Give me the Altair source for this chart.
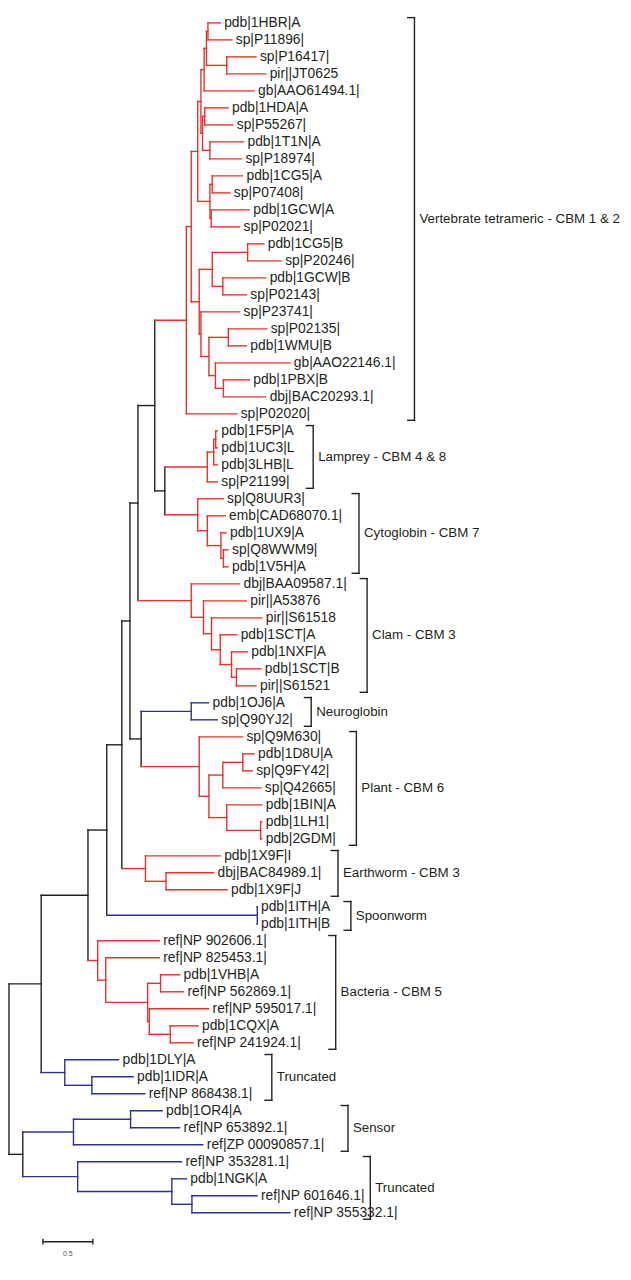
import altair as alt
import pandas as pd

# ---------------- data ----------------
LEAF_NAMES = [
    "pdb|1HBR|A", "sp|P11896|", "sp|P16417|", "pir||JT0625", "gb|AAO61494.1|",
    "pdb|1HDA|A", "sp|P55267|", "pdb|1T1N|A", "sp|P18974|", "pdb|1CG5|A",
    "sp|P07408|", "pdb|1GCW|A", "sp|P02021|", "pdb|1CG5|B", "sp|P20246|",
    "pdb|1GCW|B", "sp|P02143|", "sp|P23741|", "sp|P02135|", "pdb|1WMU|B",
    "gb|AAO22146.1|", "pdb|1PBX|B", "dbj|BAC20293.1|", "sp|P02020|",
    "pdb|1F5P|A", "pdb|1UC3|L", "pdb|3LHB|L", "sp|P21199|",
    "sp|Q8UUR3|", "emb|CAD68070.1|", "pdb|1UX9|A", "sp|Q8WWM9|", "pdb|1V5H|A",
    "dbj|BAA09587.1|", "pir||A53876", "pir||S61518", "pdb|1SCT|A", "pdb|1NXF|A",
    "pdb|1SCT|B", "pir||S61521",
    "pdb|1OJ6|A", "sp|Q90YJ2|",
    "sp|Q9M630|", "pdb|1D8U|A", "sp|Q9FY42|", "sp|Q42665|", "pdb|1BIN|A",
    "pdb|1LH1|", "pdb|2GDM|",
    "pdb|1X9F|I", "dbj|BAC84989.1|", "pdb|1X9F|J",
    "pdb|1ITH|A", "pdb|1ITH|B",
    "ref|NP 902606.1|", "ref|NP 825453.1|", "pdb|1VHB|A", "ref|NP 562869.1|",
    "ref|NP 595017.1|", "pdb|1CQX|A", "ref|NP 241924.1|",
    "pdb|1DLY|A", "pdb|1IDR|A", "ref|NP 868438.1|",
    "pdb|1OR4|A", "ref|NP 653892.1|", "ref|ZP 00090857.1|",
    "ref|NP 353281.1|", "pdb|1NGK|A", "ref|NP 601646.1|", "ref|NP 355332.1|",
]
LEAF_DEPTH = [
    2.113, 2.229, 2.471, 2.568, 2.452,
    2.191, 2.239, 2.346, 2.326, 2.336,
    2.210, 2.404, 2.307, 2.549, 2.723,
    2.568, 2.375, 2.307, 2.578, 2.375,
    2.810, 2.404, 2.568, 2.278,
    2.084, 2.084, 2.084, 2.084,
    2.142, 2.162, 2.171, 2.191, 2.191,
    2.307, 2.375, 2.529, 2.278, 2.384,
    2.520, 2.471,
    1.997, 2.084,
    2.336, 2.452, 2.433, 2.520, 2.529,
    2.529, 2.529,
    2.113, 2.046, 2.181,
    2.481, 2.481,
    1.503, 1.503, 1.707, 1.745,
    1.997, 1.891, 1.842,
    1.097, 1.242, 1.358,
    1.532, 1.707, 1.939,
    1.726, 1.774, 2.481, 2.810,
]
LEAF_CLADE = (["red"] * 40 + ["blue"] * 2 + ["red"] * 10 + ["blue"] * 2
              + ["red"] * 7 + ["blue"] * 10)

NODE_ID = ["A", "B", "C", "D", "E", "G", "H", "I", "J", "K", "L", "M",
           "N", "O", "P", "T1", "T2", "T3", "T", "S", "Q", "R", "VERT",
           "LA1", "LA2", "LAM", "CY1", "CY2", "CY3", "CYT", "LC", "V",
           "CL1", "CL2", "CL3", "CL4", "CL5", "CLAM", "W",
           "NEU", "PL1", "PL2", "PL3", "PL4", "PL5", "PLANT", "NP", "X",
           "EW1", "EW", "Y", "SPW", "Z",
           "BA1", "BA2", "BA3", "BA4", "BA5", "BACT", "AA",
           "TR1", "TRA", "BB", "SE1", "SEN", "TB1", "TB2", "TRB", "CC", "ROOT"]
NODE_LEFT = ["pdb|1HBR|A", "sp|P16417|", "A", "C", "pdb|1HDA|A", "pdb|1T1N|A", "E", "D",
             "pdb|1CG5|A", "pdb|1GCW|A", "J", "I",
             "pdb|1CG5|B", "pdb|1GCW|B", "N", "sp|P02135|", "pdb|1PBX|B", "gb|AAO22146.1|",
             "T1", "sp|P23741|", "P", "M", "R",
             "pdb|1F5P|A", "LA1", "LA2", "sp|Q8WWM9|", "pdb|1UX9|A", "emb|CAD68070.1|",
             "sp|Q8UUR3|", "LAM", "VERT",
             "pdb|1SCT|B", "pdb|1NXF|A", "pdb|1SCT|A", "pir||S61518", "pir||A53876",
             "dbj|BAA09587.1|", "V",
             "pdb|1OJ6|A", "pdb|1D8U|A", "PL1", "pdb|1LH1|", "pdb|1BIN|A", "PL2",
             "sp|Q9M630|", "NEU", "W",
             "dbj|BAC84989.1|", "pdb|1X9F|I", "X", "pdb|1ITH|A", "Y",
             "pdb|1VHB|A", "pdb|1CQX|A", "ref|NP 595017.1|", "BA1", "ref|NP 825453.1|",
             "ref|NP 902606.1|", "Z",
             "pdb|1IDR|A", "pdb|1DLY|A", "AA", "pdb|1OR4|A", "SE1", "ref|NP 601646.1|",
             "pdb|1NGK|A", "ref|NP 353281.1|", "SEN", "BB"]
NODE_RIGHT = ["sp|P11896|", "pir||JT0625", "B", "gb|AAO61494.1|", "sp|P55267|", "sp|P18974|",
              "G", "H", "sp|P07408|", "sp|P02021|", "K", "L",
              "sp|P20246|", "sp|P02143|", "O", "pdb|1WMU|B", "dbj|BAC20293.1|", "T2",
              "T3", "T", "S", "Q", "sp|P02020|",
              "pdb|1UC3|L", "pdb|3LHB|L", "sp|P21199|", "pdb|1V5H|A", "CY1", "CY2",
              "CY3", "CYT", "LC",
              "pir||S61521", "CL1", "CL2", "CL3", "CL4", "CL5", "CLAM",
              "sp|Q90YJ2|", "sp|Q9FY42|", "sp|Q42665|", "pdb|2GDM|", "PL3", "PL4",
              "PL5", "PLANT", "NP",
              "pdb|1X9F|J", "EW1", "EW", "pdb|1ITH|B", "SPW",
              "ref|NP 562869.1|", "ref|NP 241924.1|", "BA2", "BA3", "BA4", "BA5", "BACT",
              "ref|NP 868438.1|", "TR1", "TRA", "ref|NP 653892.1|", "ref|ZP 00090857.1|",
              "ref|NP 355332.1|", "TB1", "TB2", "TRB", "CC"]
NODE_DEPTH = [1.990, 2.178, 1.975, 1.952, 1.958, 2.010, 1.936, 1.920, 2.033, 2.023, 2.010, 1.888,
              2.387, 2.139, 2.033, 2.194, 2.145, 2.065, 2.000, 1.920, 1.903, 1.823, 1.774,
              2.068, 2.048, 1.984, 2.145, 2.120, 1.984, 1.888, 1.559, 1.458,
              2.275, 2.226, 2.113, 2.026, 1.946, 1.823, 1.290,
              1.823, 2.339, 2.139, 2.517, 2.178, 2.000, 1.903, 1.322, 1.210,
              1.571, 1.365, 1.129, 2.484, 0.978,
              1.516, 1.613, 1.404, 1.387, 0.968, 0.887, 0.790,
              0.829, 0.558, 0.322, 1.216, 0.645, 1.830, 1.629, 0.687, 0.138, 0.000]
NODE_CLADE = (["red"] * 30 + ["black"] * 2 + ["red"] * 6 + ["black"]
              + ["blue"] + ["red"] * 6 + ["black"] * 2
              + ["red"] * 2 + ["black"] + ["blue"] + ["black"]
              + ["red"] * 6 + ["black"]
              + ["blue"] * 2 + ["black"] + ["blue"] * 5 + ["black"] * 2)

GROUP_NAMES = ["Vertebrate tetrameric - CBM 1 & 2", "Lamprey - CBM 4 & 8", "Cytoglobin - CBM 7",
               "Clam - CBM 3", "Neuroglobin", "Plant - CBM 6", "Earthworm - CBM 3",
               "Spoonworm", "Bacteria - CBM 5", "Truncated", "Sensor", "Truncated"]
GROUP_FIRST = [0, 24, 28, 33, 40, 42, 49, 52, 54, 61, 64, 67]
GROUP_LAST = [23, 27, 32, 39, 41, 48, 51, 53, 60, 63, 66, 70]
GROUP_X = [4.056, 3.043, 3.501, 3.582, 3.023, 3.475, 3.291, 3.420, 3.268, 2.629, 3.391, 3.614]

SCALE_BAR = 0.5
SCALE_LABEL = "0.5"

# ---------------- build tables ----------------
COLORS = {"red": "#E8312A", "blue": "#2E3192", "black": "#231F20"}
ypos = {n: i for i, n in enumerate(LEAF_NAMES)}
depth = dict(zip(LEAF_NAMES, LEAF_DEPTH))
clade = dict(zip(LEAF_NAMES, LEAF_CLADE))
for nid, a, b, d, c in zip(NODE_ID, NODE_LEFT, NODE_RIGHT, NODE_DEPTH, NODE_CLADE):
    ypos[nid] = (ypos[a] + ypos[b]) / 2.0
    depth[nid] = d
    clade[nid] = c

segs = []
for nid, a, b in zip(NODE_ID, NODE_LEFT, NODE_RIGHT):
    segs.append(dict(x=depth[nid], x2=depth[nid], y=ypos[a], y2=ypos[b], c=clade[nid]))
    for ch in (a, b):
        segs.append(dict(x=depth[nid], x2=depth[ch], y=ypos[ch], y2=ypos[ch], c=clade[ch]))
seg_df = pd.DataFrame(segs)

leaf_df = pd.DataFrame({"x": LEAF_DEPTH, "y": list(range(len(LEAF_NAMES))), "name": LEAF_NAMES})

TOP_OFF, BOT_OFF, TICK = 0.31, 0.38, 0.068
br = []
glab = []
for name, f, l, gx in zip(GROUP_NAMES, GROUP_FIRST, GROUP_LAST, GROUP_X):
    y0, y1 = f - TOP_OFF, l + BOT_OFF
    br.append(dict(x=gx, x2=gx, y=y0, y2=y1))
    br.append(dict(x=gx - TICK, x2=gx, y=y0, y2=y0))
    br.append(dict(x=gx - TICK, x2=gx, y=y1, y2=y1))
    glab.append(dict(x=gx, y=(y0 + y1) / 2.0, name=name))
br_df = pd.DataFrame(br)
glab_df = pd.DataFrame(glab)

n = len(LEAF_NAMES)
sb_x0 = 0.339
sb_y = n - 1 + 1.7
sb = pd.DataFrame([
    dict(x=sb_x0, x2=sb_x0 + SCALE_BAR, y=sb_y, y2=sb_y),
    dict(x=sb_x0, x2=sb_x0, y=sb_y - 0.17, y2=sb_y + 0.17),
    dict(x=sb_x0 + SCALE_BAR, x2=sb_x0 + SCALE_BAR, y=sb_y - 0.17, y2=sb_y + 0.17),
])
sb_lab = pd.DataFrame([dict(x=sb_x0 + SCALE_BAR / 2, y=n - 1 + 2.45, t=SCALE_LABEL)])

# ---------------- chart ----------------
W, H = 623, 1258
XS = alt.Scale(domain=[-0.0099, 6.142], nice=False, zero=False)
YS = alt.Scale(domain=[-0.4, 72.655], nice=False, zero=False, reverse=True)
CS = alt.Scale(domain=list(COLORS.keys()), range=list(COLORS.values()))
FONT = "Liberation Sans"

tree = alt.Chart(seg_df).mark_rule(strokeWidth=1.4, strokeCap="square").encode(
    x=alt.X("x:Q", scale=XS, axis=None), x2="x2:Q",
    y=alt.Y("y:Q", scale=YS, axis=None), y2="y2:Q",
    color=alt.Color("c:N", scale=CS, legend=None),
)
leaves = alt.Chart(leaf_df).mark_text(align="left", baseline="middle", dx=4, fontSize=14,
                                      font=FONT, color="#231F20").encode(
    x=alt.X("x:Q", scale=XS, axis=None), y=alt.Y("y:Q", scale=YS, axis=None), text="name:N")
brackets = alt.Chart(br_df).mark_rule(strokeWidth=1.4, strokeCap="square", color="#231F20").encode(
    x=alt.X("x:Q", scale=XS, axis=None), x2="x2:Q",
    y=alt.Y("y:Q", scale=YS, axis=None), y2="y2:Q")
glabels = alt.Chart(glab_df).mark_text(align="left", baseline="middle", dx=5, fontSize=13.5,
                                       font=FONT, color="#231F20").encode(
    x=alt.X("x:Q", scale=XS, axis=None), y=alt.Y("y:Q", scale=YS, axis=None), text="name:N")
scalebar = alt.Chart(sb).mark_rule(strokeWidth=1.4, color="#231F20").encode(
    x=alt.X("x:Q", scale=XS, axis=None), x2="x2:Q",
    y=alt.Y("y:Q", scale=YS, axis=None), y2="y2:Q")
scalelab = alt.Chart(sb_lab).mark_text(align="center", baseline="middle", fontSize=7,
                                       font=FONT, color="#555555").encode(
    x=alt.X("x:Q", scale=XS, axis=None), y=alt.Y("y:Q", scale=YS, axis=None), text="t:N")

chart = alt.layer(tree, brackets, scalebar, leaves, glabels, scalelab).properties(
    width=W, height=H, padding=0, autosize=alt.AutoSizeParams(type="none"),
    background="white",
).configure_view(stroke=None)

chart.save("out.html", embed_options={"renderer": "svg", "actions": False})
